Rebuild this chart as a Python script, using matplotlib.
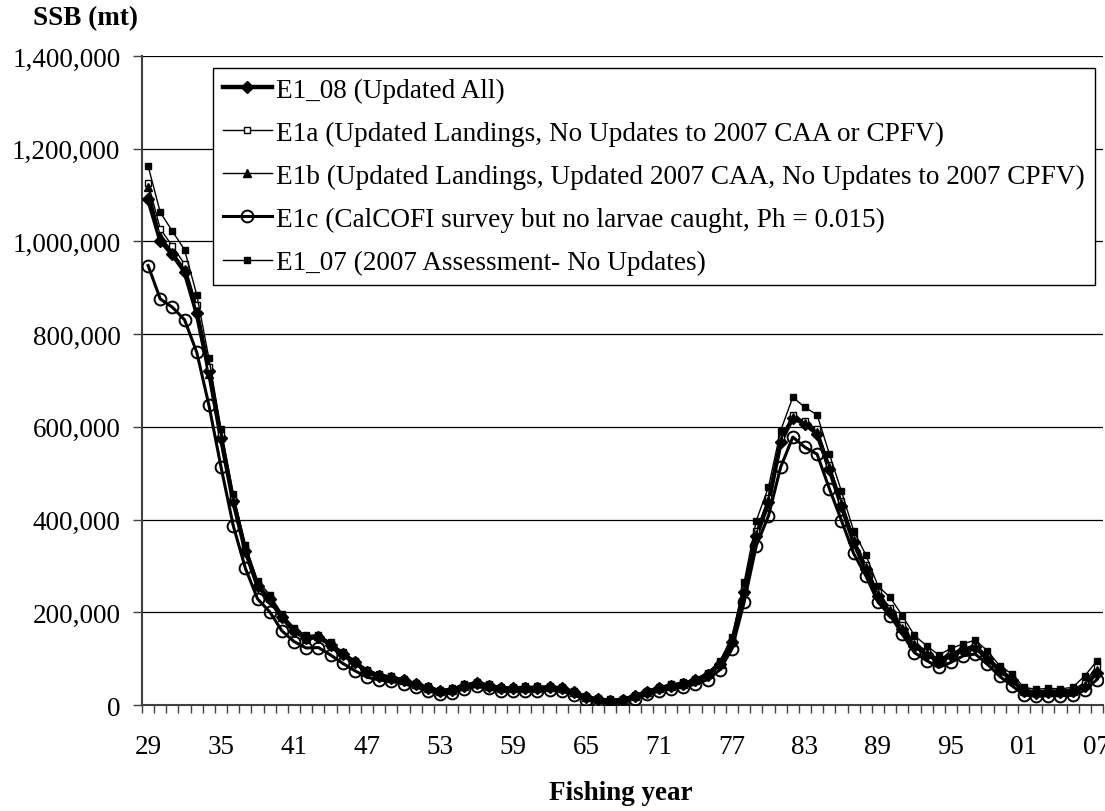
import matplotlib
matplotlib.use("Agg")
import matplotlib.pyplot as plt
from matplotlib.ticker import FuncFormatter, FixedLocator

plt.rcParams['font.family'] = ['Liberation Serif', 'DejaVu Serif']

years = list(range(1929, 2008))

e1_08 = [1092000, 1002000, 972000, 935000, 845000, 720000, 575000, 440000, 333000, 257000,
         228000, 189000, 160000, 144000, 147000, 130000, 110000, 92000, 72000, 63000,
         59000, 53000, 45000, 37000, 30000, 33000, 42000, 47000, 42000, 36000,
         36000, 37000, 37000, 38000, 36000, 28000, 17000, 12000, 9000, 11000,
         19000, 28000, 36000, 42000, 46000, 53000, 65000, 88000, 135000, 243000,
         365000, 437000, 567000, 620000, 606000, 585000, 509000, 430000, 351000, 293000,
         236000, 200000, 164000, 128000, 110000, 95000, 108000, 118000, 125000, 100000,
         75000, 55000, 30000, 27000, 29000, 29000, 30000, 42000, 70000]

e1a = [1126000, 1027000, 990000, 951000, 862000, 730000, 582000, 446000, 338000, 261000,
       232000, 192000, 163000, 146000, 149000, 132000, 112000, 94000, 74000, 65000,
       60000, 54000, 46000, 38000, 31000, 34000, 43000, 48000, 43000, 37000,
       37000, 38000, 38000, 39000, 37000, 29000, 18000, 13000, 10000, 12000,
       20000, 29000, 37000, 43000, 47000, 54000, 67000, 90000, 139000, 250000,
       375000, 447000, 575000, 625000, 612000, 595000, 518000, 440000, 360000, 302000,
       243000, 210000, 172000, 135000, 116000, 99000, 112000, 122000, 130000, 106000,
       78000, 58000, 33000, 30000, 31000, 31000, 33000, 48000, 85000]

e1b = [1117000, 1012000, 978000, 940000, 850000, 714000, 578000, 443000, 335000, 259000,
       230000, 190000, 161000, 145000, 148000, 131000, 111000, 93000, 73000, 64000,
       59000, 53000, 45000, 37000, 30000, 33000, 42000, 47000, 42000, 36000,
       36000, 37000, 37000, 38000, 36000, 28000, 17000, 12000, 9000, 11000,
       19000, 28000, 36000, 42000, 46000, 53000, 66000, 89000, 137000, 246000,
       370000, 442000, 571000, 622000, 609000, 590000, 513000, 435000, 355000, 297000,
       239000, 204000, 167000, 131000, 112000, 97000, 110000, 120000, 127000, 103000,
       76000, 56000, 31000, 28000, 30000, 30000, 31000, 44000, 75000]

e1c = [948000, 876000, 858000, 831000, 761000, 647000, 513000, 387000, 295000, 229000,
       201000, 160000, 137000, 123000, 124000, 108000, 90000, 74000, 60000, 54000,
       51000, 46000, 39000, 31000, 24000, 27000, 35000, 40000, 36000, 30000,
       30000, 31000, 31000, 32000, 30000, 22000, 11000, 7000, 5000, 7000,
       14000, 23000, 30000, 35000, 39000, 45000, 55000, 76000, 121000, 222000,
       344000, 408000, 513000, 578000, 556000, 541000, 467000, 398000, 327000, 279000,
       222000, 193000, 153000, 113000, 96000, 81000, 92000, 106000, 110000, 88000,
       62000, 42000, 22000, 19000, 20000, 20000, 21000, 32000, 55000]

e1_07 = [1163000, 1063000, 1022000, 982000, 885000, 748000, 595000, 455000, 345000, 268000,
         238000, 197000, 167000, 150000, 152000, 135000, 114000, 96000, 76000, 67000,
         62000, 56000, 48000, 40000, 33000, 36000, 45000, 50000, 45000, 39000,
         39000, 40000, 40000, 41000, 39000, 31000, 20000, 15000, 12000, 14000,
         22000, 31000, 39000, 45000, 49000, 57000, 70000, 95000, 146000, 265000,
         398000, 470000, 592000, 664000, 642000, 626000, 542000, 461000, 376000, 324000,
         257000, 232000, 193000, 150000, 128000, 108000, 122000, 132000, 140000, 117000,
         85000, 67000, 38000, 34000, 36000, 35000, 38000, 63000, 95000]

labels = ["E1_08 (Updated All)",
          "E1a (Updated Landings, No Updates to 2007 CAA or CPFV)",
          "E1b (Updated Landings, Updated 2007 CAA, No Updates to 2007 CPFV)",
          "E1c (CalCOFI survey but no larvae caught, Ph = 0.015)",
          "E1_07 (2007 Assessment- No Updates)"]

xtick_years = [1929, 1935, 1941, 1947, 1953, 1959, 1965, 1971, 1977, 1983, 1989, 1995, 2001, 2007]
xtick_labels = ["29", "35", "41", "47", "53", "59", "65", "71", "77", "83", "89", "95", "01", "07"]
yticks = [0, 200000, 400000, 600000, 800000, 1000000, 1200000, 1400000]

fig = plt.figure(figsize=(11.05, 8.12), dpi=100)
ax = fig.add_axes([0.1285, 0.1305, 0.8697, 0.7993])

ax.plot(years, e1_08, color='black', lw=3.2, marker='D', ms=6, mfc='black', mec='black', label=labels[0], zorder=3)
ax.plot(years, e1a, color='black', lw=1.0, marker='s', ms=5, mfc='white', mec='black', mew=1.0, label=labels[1], zorder=4)
ax.plot(years, e1b, color='black', lw=1.0, marker='^', ms=5.5, mfc='black', mec='black', label=labels[2], zorder=5)
ax.plot(years, e1c, color='black', lw=2.2, marker='o', ms=8.5, mfc='none', mec='black', mew=1.4, label=labels[3], zorder=6)
ax.plot(years, e1_07, color='black', lw=1.0, marker='s', ms=4, mfc='black', mec='black', label=labels[4], zorder=7)

ax.set_xlim(1928.5, 2007.5)
ax.set_ylim(0, 1400000)
ax.set_yticks(yticks)
ax.yaxis.set_major_formatter(FuncFormatter(lambda v, p: f"{int(v):,}"))
ax.yaxis.grid(True, color='black', lw=0.9)
ax.set_axisbelow(True)

ax.set_xticks(xtick_years)
ax.set_xticklabels(xtick_labels)
ax.xaxis.set_minor_locator(FixedLocator([1928.5 + k for k in range(80)]))
ax.tick_params(axis='x', which='major', length=0, pad=21, labelsize=19.5)
ax.tick_params(axis='x', which='minor', length=6, width=1.0, direction='out', color='#404040')
ax.tick_params(axis='y', which='major', length=6.5, width=1.0, direction='out', pad=9, labelsize=19.5, color='#404040')

for s in ['top', 'right']:
    ax.spines[s].set_visible(False)
for s in ['left', 'bottom']:
    ax.spines[s].set_color('#404040')
    ax.spines[s].set_linewidth(1.5)

fig.text(0.03, 0.977, "SSB (mt)", fontsize=19.5, fontweight='bold', ha='left', va='center')
fig.text(0.5615, 0.023, "Fishing year", fontsize=19.5, fontweight='bold', ha='center', va='center')

leg = ax.legend(loc='upper left', bbox_to_anchor=(213 / 1105, 1 - 69 / 812), bbox_transform=fig.transFigure,
                fontsize=19.6, frameon=True, fancybox=False, shadow=False, handlelength=1.8,
                handletextpad=0.18, labelspacing=0.66, borderpad=0.35, borderaxespad=0, framealpha=1)
leg.get_frame().set_edgecolor('black')
leg.get_frame().set_linewidth(1.0)

fig.savefig("out.png", dpi=100)
